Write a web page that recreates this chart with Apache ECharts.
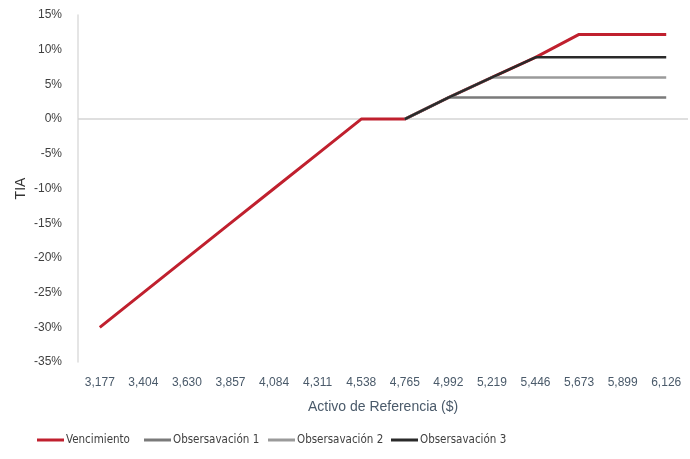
<!DOCTYPE html>
<html>
<head>
<meta charset="utf-8">
<script src="https://cdn.jsdelivr.net/npm/echarts@6/dist/echarts.min.js"></script>
<style>
html,body{margin:0;padding:0;background:#fff;}
#c{width:690px;height:459px;}
</style>
</head>
<body>
<div id="c"></div>
<script>
var categories = ['3,177','3,404','3,630','3,857','4,084','4,311','4,538','4,765','4,992','5,219','5,446','5,673','5,899','6,126'];
var vencimiento = [-30,-25,-20,-15,-10,-5,0,0,3.1,6.0,8.9,12.2,12.2,12.2];
var obs1 = [null,null,null,null,null,null,null,0,3.1,3.1,3.1,3.1,3.1,3.1];
var obs2 = [null,null,null,null,null,null,null,0,3.1,6.0,6.0,6.0,6.0,6.0];
var obs3 = [null,null,null,null,null,null,null,0,3.1,6.0,8.9,8.9,8.9,8.9];
var seriesNames = ['Vencimiento','Obsersavación 1','Obsersavación 2','Obsersavación 3'];
var legendLeft = [32, 139, 263, 386];

var FONT = "'Liberation Sans',sans-serif";
var COND = "'DejaVu Sans Condensed','Liberation Sans',sans-serif";
var chart = echarts.init(document.getElementById('c'), null, {renderer:'canvas'});
function line(name, data, color, width, z) {
  return {
    name: name, type: 'line', data: data, showSymbol: false, symbol: 'none',
    connectNulls: false, z: z, animation: false,
    lineStyle: {color: color, width: width}, itemStyle: {color: color}
  };
}
var zeroSeries = {
  name: 'zero', type: 'line', data: [], z: 1, silent: true, animation: false,
  markLine: {
    z: 1, silent: true, symbol: 'none', label: {show: false}, animation: false,
    lineStyle: {color: '#d4d4d4', width: 1.5, type: 'solid'},
    data: [{yAxis: 0}]
  }
};
var legends = seriesNames.map(function(n, i){
  return {
    left: legendLeft[i], top: 429, icon: 'rect', itemWidth: 27, itemHeight: 3, itemGap: 0,
    textStyle: {fontFamily: COND, fontSize: 11.5, color: '#404040', padding: [0,0,0,-3]},
    data: [n]
  };
});
chart.setOption({
  animation: false,
  textStyle: {fontFamily: FONT},
  grid: {left: 78, right: 2, top: 15, bottom: 97},
  legend: legends,
  xAxis: {
    type: 'category', data: categories, boundaryGap: true,
    name: 'Activo de Referencia ($)', nameLocation: 'middle', nameGap: 38,
    nameTextStyle: {fontFamily: FONT, fontSize: 14, color: '#4a5a6a'},
    axisLine: {show: false}, axisTick: {show: false},
    axisLabel: {fontFamily: FONT, fontSize: 12, color: '#4a5a6a', margin: 15}
  },
  yAxis: {
    type: 'value', min: -35, max: 15, interval: 5,
    name: 'TIA', nameLocation: 'middle', nameGap: 50, nameRotate: 90, nameMoveOverlap: false,
    nameTextStyle: {fontFamily: FONT, fontSize: 14, color: '#333'},
    axisLine: {show: true, lineStyle: {color: '#dcdcdc', width: 1.5}},
    axisTick: {show: false}, splitLine: {show: false},
    axisLabel: {fontFamily: FONT, fontSize: 12, color: '#404040', margin: 16,
      formatter: function(v){ return v + '%'; }}
  },
  series: [
    zeroSeries,
    line(seriesNames[0], vencimiento, '#c0202e', 3, 2),
    line(seriesNames[1], obs1, '#7a7a7a', 2.5, 3),
    line(seriesNames[2], obs2, '#9a9a9a', 2.5, 4),
    line(seriesNames[3], obs3, '#2a2a2a', 2.5, 5)
  ]
});
</script>
</body>
</html>
